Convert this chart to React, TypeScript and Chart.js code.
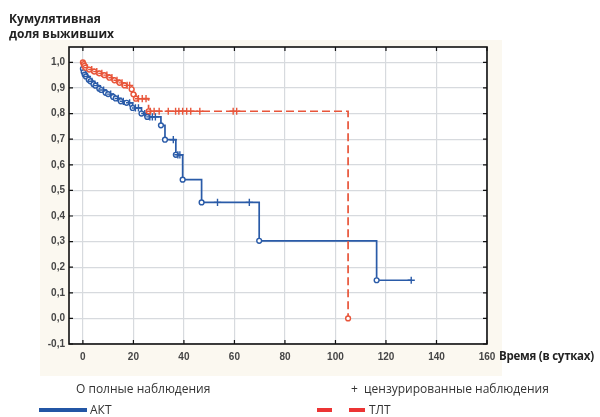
import React, { useEffect, useRef } from 'react';
import { Chart, registerables } from 'chart.js';

Chart.register(...registerables);

// АКТ group: time (days), cumulative survival, 1 = complete observation (o), 0 = censored (+)
const aktTimes = [0, 0.3, 0.7, 1.2, 1.8, 2.3, 3, 3.6, 4.2, 5, 5.8, 6.5, 7.3, 8.2, 9, 10, 11, 12, 13, 14, 15, 16, 17.3, 18.5, 19.7, 20.8, 22, 23.2, 24.5, 25.5, 26.5, 27.5, 28.7, 30.9, 32.5, 35.8, 36.8, 37.6, 38.4, 39.5, 47, 53.3, 65.9, 69.8, 116.3, 130];
const aktSurvival = [0.975, 0.962, 0.952, 0.945, 0.945, 0.932, 0.926, 0.926, 0.915, 0.909, 0.909, 0.897, 0.892, 0.892, 0.881, 0.876, 0.876, 0.865, 0.859, 0.859, 0.848, 0.848, 0.842, 0.842, 0.822, 0.822, 0.822, 0.8, 0.8, 0.787, 0.787, 0.787, 0.787, 0.754, 0.698, 0.698, 0.639, 0.639, 0.639, 0.542, 0.453, 0.453, 0.453, 0.303, 0.149, 0.149];
const aktEvent = [1, 1, 1, 1, 0, 1, 1, 0, 1, 1, 0, 1, 1, 0, 1, 1, 0, 1, 1, 0, 1, 0, 1, 0, 1, 0, 0, 1, 0, 1, 0, 0, 0, 1, 1, 0, 1, 0, 0, 1, 1, 0, 0, 1, 1, 0];

// ТЛТ group
const tltTimes = [0, 0.3, 0.6, 1, 1.8, 2.5, 3.5, 4.5, 5.5, 6.5, 7.5, 8.5, 9.5, 10.5, 11.5, 12.5, 13.5, 14.5, 15.5, 16.5, 17.5, 18.5, 19.3, 20, 21, 22, 23.5, 25, 26, 26.7, 28.2, 30.2, 33.8, 36.7, 38, 39.5, 41.1, 42.7, 46.3, 59.5, 60.9, 105];
const tltSurvival = [1.0, 0.993, 0.986, 0.979, 0.979, 0.972, 0.972, 0.964, 0.964, 0.957, 0.957, 0.95, 0.95, 0.94, 0.94, 0.93, 0.93, 0.92, 0.92, 0.91, 0.91, 0.91, 0.895, 0.875, 0.858, 0.858, 0.858, 0.858, 0.809, 0.809, 0.809, 0.809, 0.809, 0.809, 0.809, 0.809, 0.809, 0.809, 0.809, 0.809, 0.809, 0.0];
const tltEvent = [1, 1, 1, 1, 0, 1, 0, 1, 0, 1, 0, 1, 0, 1, 0, 1, 0, 1, 0, 1, 0, 0, 1, 1, 1, 0, 0, 0, 1, 0, 0, 0, 0, 0, 0, 0, 0, 0, 0, 0, 0, 1];

const xTickValues = [0, 20, 40, 60, 80, 100, 120, 140, 160];
const yTickValues = [-0.1, 0.0, 0.1, 0.2, 0.3, 0.4, 0.5, 0.6, 0.7, 0.8, 0.9, 1.0];

const AKT_COLOR = '#2a5ba8';
const TLT_COLOR = '#e8553a';

const framePlugin = {
  id: 'frame',
  beforeDraw(chart: any) {
    const { ctx, chartArea: a } = chart;
    ctx.save();
    ctx.fillStyle = '#fbf8f0';
    ctx.fillRect(a.left - 29, a.top - 7, a.right - a.left + 44, a.bottom - a.top + 39);
    ctx.fillStyle = '#ffffff';
    ctx.fillRect(a.left, a.top, a.right - a.left, a.bottom - a.top);
    ctx.restore();
  },
  afterDraw(chart: any) {
    const { ctx, chartArea: a, scales } = chart;
    ctx.save();
    ctx.strokeStyle = '#111';
    ctx.lineWidth = 1.2;
    ctx.beginPath();
    xTickValues.forEach((v) => {
      const px = scales.x.getPixelForValue(v);
      ctx.moveTo(px, a.bottom);
      ctx.lineTo(px, a.bottom - 4);
      ctx.moveTo(px, a.top);
      ctx.lineTo(px, a.top + 4);
    });
    yTickValues.forEach((v) => {
      const py = scales.y.getPixelForValue(v);
      ctx.moveTo(a.left, py);
      ctx.lineTo(a.left + 4, py);
      ctx.moveTo(a.right, py);
      ctx.lineTo(a.right - 4, py);
    });
    ctx.stroke();
    ctx.lineWidth = 1.6;
    ctx.strokeRect(a.left, a.top, a.right - a.left, a.bottom - a.top);
    ctx.restore();
  },
};

function makeDataset(times: number[], surv: number[], ev: number[], color: string, dash: number[]) {
  return {
    data: times.map((t, i) => ({ x: t, y: surv[i] })),
    borderColor: color,
    borderWidth: 1.7,
    borderDash: dash,
    stepped: 'before' as const,
    fill: false,
    pointStyle: (c: any) => (ev[c.dataIndex] ? 'circle' : 'cross'),
    pointRadius: (c: any) => (ev[c.dataIndex] ? 2.4 : 3.6),
    pointBackgroundColor: '#ffffff',
    pointBorderColor: color,
    pointBorderWidth: 1.4,
  };
}

export default function App() {
  const ref = useRef<HTMLCanvasElement | null>(null);

  useEffect(() => {
    if (!ref.current) return;
    const chart = new Chart(ref.current, {
      type: 'line',
      data: {
        datasets: [
          makeDataset(tltTimes, tltSurvival, tltEvent, TLT_COLOR, [8, 4]) as any,
          makeDataset(aktTimes, aktSurvival, aktEvent, AKT_COLOR, []) as any,
        ],
      },
      options: {
        animation: false,
        responsive: false,
        layout: { padding: { left: 0, top: 47, right: 113, bottom: 0 } },
        plugins: { legend: { display: false }, tooltip: { enabled: false } },
        scales: {
          x: {
            type: 'linear',
            min: -5.5,
            max: 160,
            afterBuildTicks: (s: any) => {
              s.ticks = xTickValues.map((v) => ({ value: v }));
            },
            afterFit: (s: any) => {
              s.height = 73;
            },
            grid: { color: '#d7dade', lineWidth: 1.2, drawTicks: false },
            border: { display: false },
            ticks: {
              autoSkip: false,
              maxRotation: 0,
              padding: 7,
              color: '#454545',
              font: { family: 'Liberation Sans', size: 10, weight: 'bold' },
              callback: (v: any) => String(v),
            },
          },
          y: {
            type: 'linear',
            min: -0.1,
            max: 1.06,
            afterBuildTicks: (s: any) => {
              s.ticks = yTickValues.map((v) => ({ value: v }));
            },
            afterFit: (s: any) => {
              s.width = 69;
            },
            grid: { color: '#d7dade', lineWidth: 1.2, drawTicks: false },
            border: { display: false },
            ticks: {
              autoSkip: false,
              padding: 4,
              color: '#454545',
              font: { family: 'Liberation Sans', size: 10, weight: 'bold' },
              callback: (v: any) => Number(v).toFixed(1).replace('.', ','),
            },
          },
        },
      },
      plugins: [framePlugin],
    });
    return () => chart.destroy();
  }, []);

  const text: React.CSSProperties = {
    position: 'absolute',
    fontFamily: '"Open Sans", "Noto Sans", sans-serif',
    fontSize: 12,
    lineHeight: '14px',
    color: '#333',
    whiteSpace: 'nowrap',
  };

  return (
    <div style={{ position: 'fixed', left: 0, top: 0, width: 600, height: 417, background: '#fff' }}>
      <canvas ref={ref} width={600} height={417} style={{ position: 'absolute', left: 0, top: 0 }} />
      <div style={{ ...text, left: 9, top: 11, fontWeight: 700, lineHeight: '15px', color: '#222' }}>
        Кумулятивная<br />доля выживших
      </div>
      <div style={{ ...text, left: 499, top: 349, fontWeight: 700, color: '#222', fontSize: 11.5, letterSpacing: '-0.25px' }}>Время (в сутках)</div>
      <div style={{ ...text, left: 76, top: 382 }}>O полные наблюдения</div>
      <div style={{ ...text, left: 351, top: 382 }}>+&nbsp;&nbsp;цензурированные наблюдения</div>
      <div style={{ position: 'absolute', left: 39, top: 408, width: 48, height: 4, background: '#2356a5' }} />
      <div style={{ ...text, left: 90, top: 403 }}>АКТ</div>
      <div style={{ position: 'absolute', left: 317, top: 408, width: 15, height: 4, background: '#ec3434' }} />
      <div style={{ position: 'absolute', left: 349, top: 408, width: 16, height: 4, background: '#ec3434' }} />
      <div style={{ ...text, left: 369, top: 403 }}>ТЛТ</div>
    </div>
  );
}
